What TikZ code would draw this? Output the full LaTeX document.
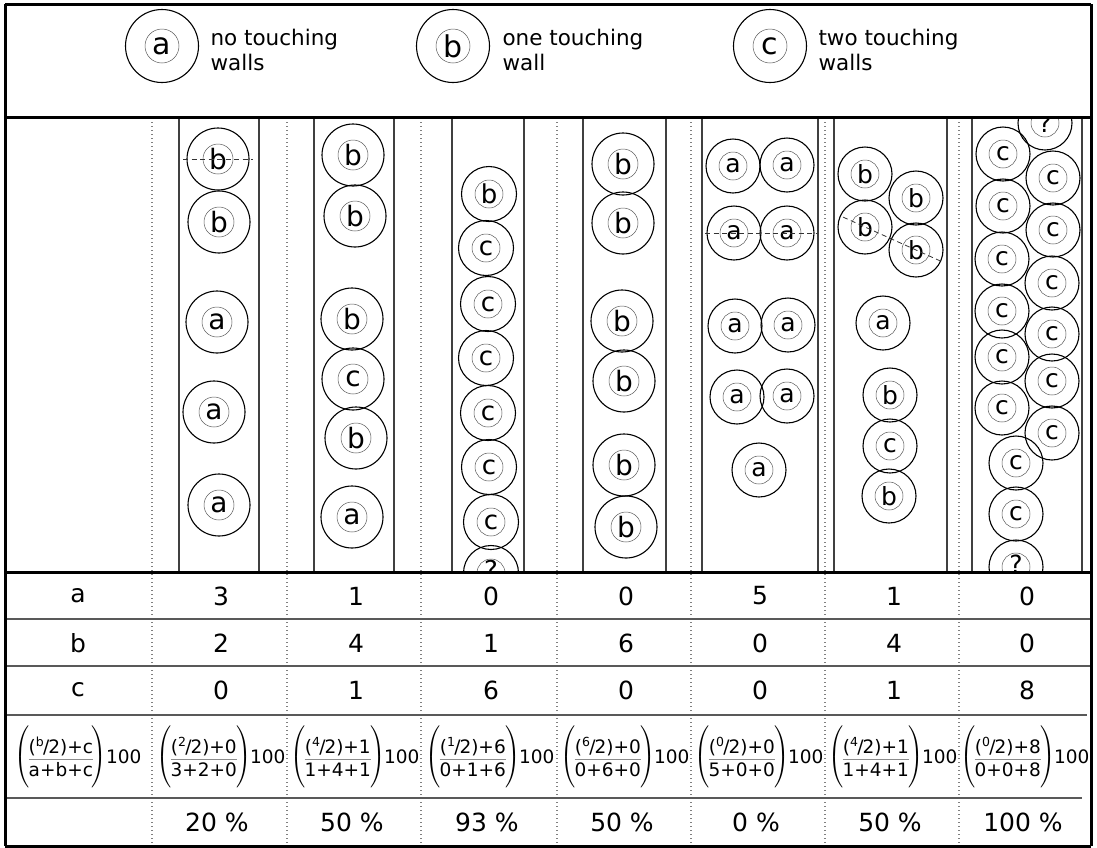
\documentclass[tikz,border=0pt]{standalone}
\usepackage{fontspec}
\usepackage{exscale}
\setmainfont{DejaVu Sans}
\usetikzlibrary{calc}
\newcommand{\fsz}[1]{\fontsize{#1}{#1}\selectfont}
\newdimen\fbw
\newcommand{\hnf}[1]{\raisebox{0.40em}{\fsz{12.5}#1}\kern-0.04em/\kern-0.06em2}
\newcommand{\fracbx}[2]{\vcenter{\hbox{%
  \setbox0=\hbox{#1}\setbox2=\hbox{#2}%
  \ifdim\wd0>\wd2 \fbw=\wd0 \else \fbw=\wd2 \fi
  \vbox{\offinterlineskip\hbox to\fbw{\hss\box0\hss}\kern3pt
    \hbox{\textcolor{black!45}{\rule{\fbw}{1pt}}}\kern3pt
    \hbox to\fbw{\hss\box2\hss}}}}}
\newcommand{\frml}[3]{\fsz{18.5}$\left(\kern-1pt\vrule height 27pt depth 27pt width 0pt\fracbx{(\hnf{#1})+#2}{#3}\kern-1pt\right)$\kern-1pt\raisebox{-2pt}{100}}
\begin{document}
\begin{tikzpicture}[x=1pt,y=-1pt,
  inball/.style={path picture={\draw[line width=0.5pt,black!65] (path picture bounding box.center) circle[radius=#1];}},
  ballA/.style={circle,draw,line width=1.1pt,minimum size=62pt,inner sep=0pt,font=\fsz{28},inball=15pt},
  ballB/.style={circle,draw,line width=1.1pt,minimum size=55pt,inner sep=0pt,font=\fsz{26},inball=14pt},
  ballC/.style={circle,draw,line width=1.1pt,minimum size=54pt,inner sep=0pt,font=\fsz{25},inball=14pt},
  ballL/.style={circle,draw,line width=1.1pt,minimum size=73pt,inner sep=0pt,font=\fsz{30},inball=17pt},
  legtxt/.style={anchor=west,align=left,font=\fontsize{21.5}{25}\selectfont},
  wall/.style={line width=1.2pt,black!75},
  frame/.style={line width=3pt,black},
  rowline/.style={line width=1.5pt,black!65},
  dotline/.style={line width=1.2pt,black!50,dash pattern=on 1.2pt off 2.8pt},
  dashln/.style={line width=0.8pt,black!80,dash pattern=on 5pt off 3.5pt},
  cell/.style={font=\fsz{25}},
  fcell/.style={inner sep=0pt}
]
\useasboundingbox (0,0) rectangle (1097,847);

% legend
\node[ballL] (la) at (162,46) {a};
\node[legtxt] (lta) at (207,50) {no touching\\walls};
\node[ballL] (lb) at (453,46) {b};
\node[legtxt] (ltb) at (499,50) {one touching\\wall};
\node[ballL] (lc) at (770,46) {c};
\node[legtxt] (ltc) at (815,50) {two touching\\walls};

% dotted column separators
\foreach \x in {152,287,421,557,691,825,959}
  \draw[dotline] (\x,122) -- (\x,846);

% tube walls
\foreach \a/\b in {179/259,314/394,452/524,583/666,702/818,834/947,972/1082}
  {\draw[wall] (\a,117) -- (\a,572); \draw[wall] (\b,117) -- (\b,572);}

\begin{scope}
\clip (5,117) rectangle (1091,572);
% column 1
\node[ballA] (n11) at (218,159) {b};
\node[ballA] (n12) at (219,222) {b};
\node[ballA] (n13) at (217,322) {a};
\node[ballA] (n14) at (214,412) {a};
\node[ballA] (n15) at (219,505) {a};
\draw[dashln] ($(n11.center)+(-35,0)$) -- ($(n11.center)+(35,0)$);
% column 2
\node[ballA] (n21) at (353,155) {b};
\node[ballA] (n22) at (355,216) {b};
\node[ballA] (n23) at (352,319) {b};
\node[ballA] (n24) at (353,379) {c};
\node[ballA] (n25) at (356,438) {b};
\node[ballA] (n26) at (352,517) {a};
% column 3
\node[ballB] (n31) at (489,194) {b};
\node[ballB] (n32) at (486,248) {c};
\node[ballB] (n33) at (488,304) {c};
\node[ballB] (n34) at (486,358) {c};
\node[ballB] (n35) at (488,413) {c};
\node[ballB] (n36) at (489,467) {c};
\node[ballB] (n37) at (491,522) {c};
\node[ballB] (n38) at (491,573) {\raisebox{7pt}{?}};
% column 4
\node[ballA] (n41) at (623,164) {b};
\node[ballA] (n42) at (623,223) {b};
\node[ballA] (n43) at (622,321) {b};
\node[ballA] (n44) at (624,381) {b};
\node[ballA] (n45) at (624,465) {b};
\node[ballA] (n46) at (626,527) {b};
% column 5
\node[ballC] (n51) at (733,166) {a};
\node[ballC] (n52) at (787,165) {a};
\node[ballC] (n53) at (734,233) {a};
\node[ballC] (n54) at (787,233) {a};
\node[ballC] (n55) at (735,326) {a};
\node[ballC] (n56) at (788,325) {a};
\node[ballC] (n57) at (737,397) {a};
\node[ballC] (n58) at (787,396) {a};
\node[ballC] (n59) at (759,470) {a};
\draw[dashln] ($(n53.center)+(-29,0)$) -- ($(n54.center)+(29,0)$);
% column 6
\node[ballC] (n61) at (865,174) {b};
\node[ballC] (n62) at (916,198) {b};
\node[ballC] (n63) at (865,227) {b};
\node[ballC] (n64) at (916,250) {b};
\node[ballC] (n65) at (883,323) {a};
\node[ballC] (n66) at (890,395) {b};
\node[ballC] (n67) at (890,446) {c};
\node[ballC] (n68) at (889,496) {b};
\draw[dashln] ($(n63.center)!-0.43!(n64.center)$) -- ($(n63.center)!1.5!(n64.center)$);
% column 7
\node[ballC] (n70) at (1045,123) {?};
\node[ballC] (n71) at (1003,154) {c};
\node[ballC] (n72) at (1003,206) {c};
\node[ballC] (n73) at (1002,259) {c};
\node[ballC] (n74) at (1002,311) {c};
\node[ballC] (n75) at (1002,357) {c};
\node[ballC] (n76) at (1002,408) {c};
\node[ballC] (n81) at (1053,178) {c};
\node[ballC] (n82) at (1053,230) {c};
\node[ballC] (n83) at (1052,283) {c};
\node[ballC] (n84) at (1052,334) {c};
\node[ballC] (n85) at (1052,381) {c};
\node[ballC] (n86) at (1052,433) {c};
\node[ballC] (n91) at (1016,463) {c};
\node[ballC] (n92) at (1016,514) {c};
\node[ballC] (n93) at (1016,567) {\raisebox{6pt}{?}};
\end{scope}

% table lines
\draw[rowline] (5,619) -- (1091,619);
\draw[rowline] (5,666) -- (1091,666);
\draw[rowline] (5,715) -- (1087,715);
\draw[rowline] (5,798) -- (1082,798);

% table texts
\node[cell] (ra) at (78,596) {a};
\node[cell] (rb) at (78,643) {b};
\node[cell] (rc) at (78,690) {c};
\foreach \x/\va/\vb/\vc/\p [count=\i] in {219/3/2/0/20,354/1/4/1/50,489/0/1/6/93,624/0/6/0/50,758/5/0/0/0,892/1/4/1/50,1025/0/0/8/100}{
  \node[cell] (a\i) at (\x+2,596) {\va};
  \node[cell] (b\i) at (\x+2,643) {\vb};
  \node[cell] (c\i) at (\x+2,690) {\vc};
  \node[cell] (p\i) at (\x-2,822) {\p\ \%};
}
\node[fcell] (f0) at (78,757) {\frml{b}{c}{a+b+c}};
\node[fcell] (f1) at (221,757) {\frml{2}{0}{3+2+0}};
\node[fcell] (f2) at (355,757) {\frml{4}{1}{1+4+1}};
\node[fcell] (f3) at (490,757) {\frml{1}{6}{0+1+6}};
\node[fcell] (f4) at (625,757) {\frml{6}{0}{0+6+0}};
\node[fcell] (f5) at (759,757) {\frml{0}{0}{5+0+0}};
\node[fcell] (f6) at (893,757) {\frml{4}{1}{1+4+1}};
\node[fcell] (f7) at (1025,757) {\frml{0}{8}{0+0+8}};

% frame
\draw[frame] (5,4) -- (1091,4);
\draw[frame] (5,4) -- (5,846);
\draw[frame] (1091,4) -- (1091,846);
\draw[frame] (5,846) -- (1091,846);
\draw[frame] (5,117) -- (1091,117);
\draw[frame] (5,572) -- (1091,572);
\end{tikzpicture}
\end{document}
